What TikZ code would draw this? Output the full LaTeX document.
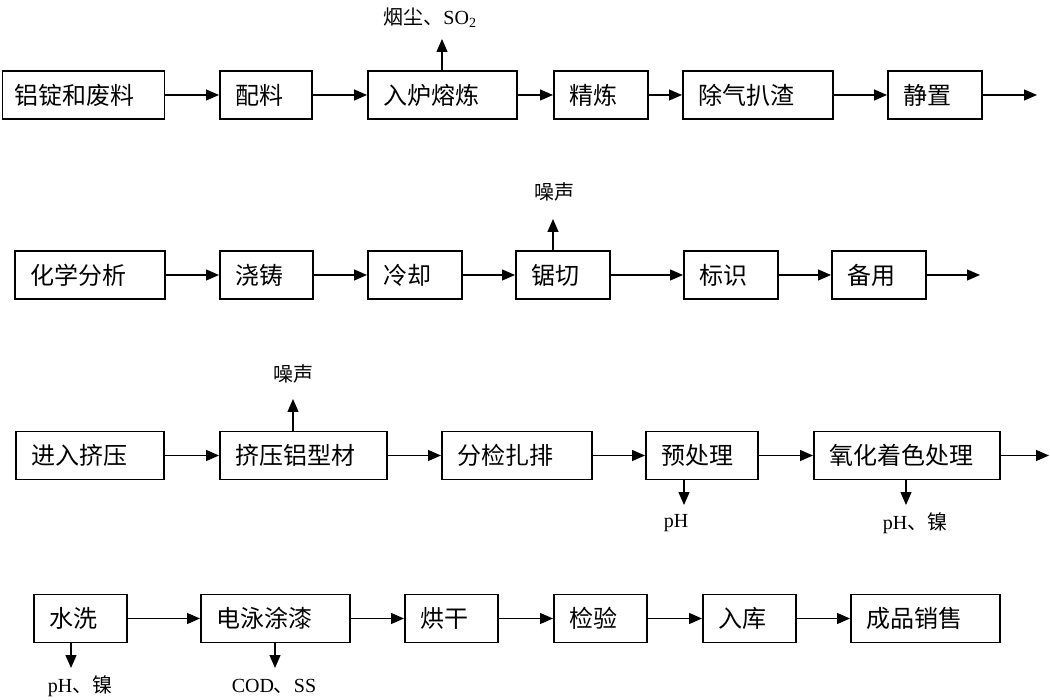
\documentclass[tikz,border=0pt]{standalone}
\usepackage{fontspec}
\setmainfont{Liberation Serif}
\newfontfamily\cjk{Noto Sans CJK SC}
\usetikzlibrary{arrows.meta}
\tikzset{
  bx/.style={draw, line width=1.6pt, anchor=west, minimum height=48pt,
    inner xsep=16pt, inner ysep=0pt, align=left, text width=#1,
    font=\cjk\fontsize{24}{28}\selectfont},
  arr/.style={-{Triangle[length=13pt,width=11pt]}, line width=1.3pt},
  lab/.style={inner sep=0pt, font=\fontsize{20}{23}\selectfont}
}
\begin{document}
\begin{tikzpicture}[x=1pt,y=-1pt]
\useasboundingbox (0,0) rectangle (1050,700);
% Row 1
\node[bx=138pt, inner xsep=12pt] (a1) at (1.5,95) {铝锭和废料};
\node[bx=60pt]  (a2) at (219,95) {配料};
\node[bx=117pt] (a3) at (367,95) {入炉熔炼};
\node[bx=62pt]  (a4) at (553,95) {精炼};
\node[bx=118pt] (a5) at (682,95) {除气扒渣};
\node[bx=62pt]  (a6) at (887,95) {静置};
\coordinate (a7) at (1037,95);
\draw[arr] (a1) -- (a2);
\draw[arr] (a2) -- (a3);
\draw[arr] (a3) -- (a4);
\draw[arr] (a4) -- (a5);
\draw[arr] (a5) -- (a6);
\draw[arr] (a6) -- (a7);
\coordinate (t1) at (442,39);
\draw[arr] (a3.north -| t1) -- (t1);
\node[lab] (l1) at (430,18) {{\cjk 烟尘、}SO\textsubscript{2}};
% Row 2
\node[bx=118pt] (b1) at (14,275) {化学分析};
\node[bx=61pt]  (b2) at (219,275) {浇铸};
\node[bx=62pt]  (b3) at (367,275) {冷却};
\node[bx=62pt]  (b4) at (515,275) {锯切};
\node[bx=62pt]  (b5) at (683,275) {标识};
\node[bx=62pt]  (b6) at (831,275) {备用};
\coordinate (b7) at (980,275);
\draw[arr] (b1) -- (b2);
\draw[arr] (b2) -- (b3);
\draw[arr] (b3) -- (b4);
\draw[arr] (b4) -- (b5);
\draw[arr] (b5) -- (b6);
\draw[arr] (b6) -- (b7);
\coordinate (t2) at (553,219);
\draw[arr] (b4.north -| t2) -- (t2);
\node[lab] (l2) at (554,192) {\cjk 噪声};
% Row 3
\node[bx=116pt] (c1) at (15,455.5) {进入挤压};
\node[bx=135pt] (c2) at (219,455.5) {挤压铝型材};
\node[bx=118pt] (c3) at (441,455.5) {分检扎排};
\node[bx=80pt]  (c4) at (645,455.5) {预处理};
\node[bx=154pt] (c5) at (813,455.5) {氧化着色处理};
\coordinate (c6) at (1049,455.5);
\draw[arr] (c1) -- (c2);
\draw[arr] (c2) -- (c3);
\draw[arr] (c3) -- (c4);
\draw[arr] (c4) -- (c5);
\draw[arr] (c5) -- (c6);
\coordinate (t3) at (293,399);
\draw[arr] (c2.north -| t3) -- (t3);
\node[lab] (l3) at (293,374) {\cjk 噪声};
\coordinate (t4) at (684,505);
\draw[arr] (c4.south -| t4) -- (t4);
\node[lab] (l4) at (676,523) {pH};
\coordinate (t5) at (906,505);
\draw[arr] (c5.south -| t5) -- (t5);
\node[lab] (l5) at (915,523) {pH{\cjk 、镍}};
% Row 4
\node[bx=61pt]  (d1) at (33,618.5) {水洗};
\node[bx=117pt] (d2) at (200,618.5) {电泳涂漆};
\node[bx=61pt]  (d3) at (404,618.5) {烘干};
\node[bx=61pt]  (d4) at (553,618.5) {检验};
\node[bx=61pt]  (d5) at (702,618.5) {入库};
\node[bx=117pt] (d6) at (850,618.5) {成品销售};
\draw[arr] (d1) -- (d2);
\draw[arr] (d2) -- (d3);
\draw[arr] (d3) -- (d4);
\draw[arr] (d4) -- (d5);
\draw[arr] (d5) -- (d6);
\coordinate (t6) at (71,668);
\draw[arr] (d1.south -| t6) -- (t6);
\node[lab] (l6) at (80,686) {pH{\cjk 、镍}};
\coordinate (t7) at (275,668);
\draw[arr] (d2.south -| t7) -- (t7);
\node[lab] (l7) at (274,686) {COD{\cjk 、}SS};
\end{tikzpicture}
\end{document}
